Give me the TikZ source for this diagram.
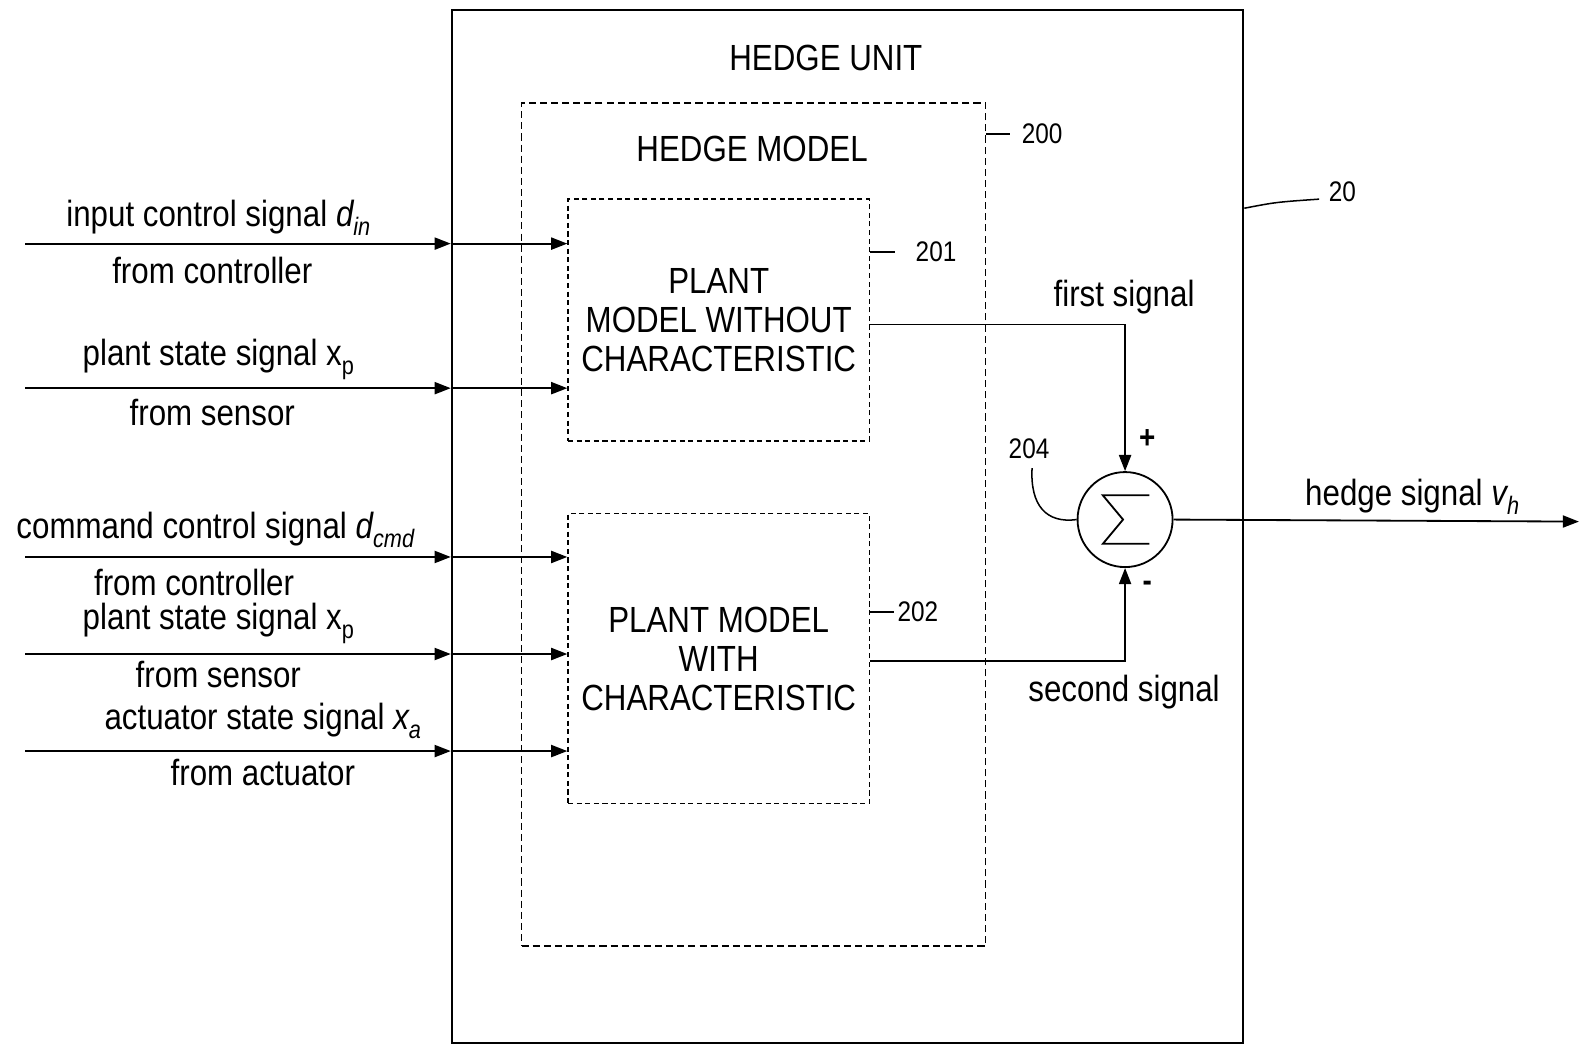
\documentclass[tikz,border=0pt]{standalone}
\usepackage{fontspec}
\setmainfont{Liberation Sans}[FakeStretch=0.86]
\usetikzlibrary{arrows.meta,calc}
\newcommand\sbs[1]{\raisebox{-0.45ex}{\fontsize{25}{25}\selectfont #1}}
\begin{document}
\begin{tikzpicture}[x=1pt,y=-1pt,
  lbl/.style={font=\fontsize{36}{38.5}\selectfont, inner sep=0pt, anchor=base},
  num/.style={font=\fontsize{28}{30}\selectfont, inner sep=0pt, anchor=base},
  ln/.style={line width=1.8pt},
  lead/.style={line width=1.5pt},
  arr/.style={line width=1.8pt,-{Triangle[length=16pt,width=12pt]}},
  unitbox/.style={draw, line width=2.2pt, inner sep=0pt},
  modelbox/.style={draw, line width=1.7pt, dash pattern=on 7pt off 4pt, inner sep=0pt},
  plantbox/.style={draw, line width=1.6pt, dash pattern=on 5pt off 3.5pt, inner sep=0pt, align=center,
     font=\fontsize{36}{38.5}\selectfont},
  sumnode/.style={circle, draw, line width=1.8pt, minimum size=94pt, inner sep=0pt},
  sgn/.style={font=\fontsize{32}{32}\selectfont\bfseries, inner sep=0pt}
]
\useasboundingbox (0,0) rectangle (1568,1035);

% boxes
\node[unitbox, minimum width=783pt, minimum height=1022pt] (unit) at (838.5,521) {};
\node[modelbox, minimum width=459pt, minimum height=834pt] (model) at (745.5,519) {};
\node[plantbox, minimum width=298pt, minimum height=239pt] (p201) at (711,316.5)
  {PLANT\\MODEL WITHOUT\\CHARACTERISTIC};
\node[plantbox, minimum width=298pt, minimum height=287pt] (p202) at (711,651.5)
  {PLANT MODEL\\WITH\\CHARACTERISTIC};
\node[sumnode] (sum) at (1113,514) {};
\draw[ln, shift={(sum.center)}] (24,-24) -- (-22,-24) -- (-2,0) -- (-22,24) -- (24,24);

% titles
\node[lbl] (tunit) at (817,70) {HEDGE UNIT};
\node[lbl] (tmodel) at (744,160) {HEDGE MODEL};

% reference numbers
\node[num] (n200) at (1031,142) {200};
\node[num] (n201) at (926,259) {201};
\node[num] (n202) at (908,615) {202};
\node[num] (n20) at (1328,199) {20};
\node[num] (n204) at (1018,454) {204};
\draw[lead] (n200.west -| model.east) -- ($(n200.west)+(-12,0)$);
\draw[lead] (n201.west -| p201.east) -- ($(n201.west)+(-20,0)$);
\draw[lead] (n202.west -| p202.east) -- ($(n202.west)+(-3,0)$);
\coordinate (l20a) at (1231,206);
\coordinate (l20b) at (1305,197);
\draw[lead] (l20a) .. controls (1262,200) .. (l20b);
\coordinate (l204) at (1021,463);
\draw[lead] (l204) .. controls (1019,500) and (1035,518) .. (sum.west);

% input signals
\foreach \y/\target [count=\i] in {241/p201, 384/p201, 551/p202, 647/p202, 743/p202} {
  \coordinate (s\i) at (25,\y);
  \draw[arr] (s\i) -- (s\i -| unit.west);
  \draw[arr] (s\i -| unit.west) -- (s\i -| \target.west);
}

\node[lbl] at (216,224) {input control signal {\itshape d}\sbs{\itshape in}};
\node[lbl] at (210,280) {from controller};
\node[lbl] at (216,362) {plant state signal x\sbs{p}};
\node[lbl] at (210,421) {from sensor};
\node[lbl] at (213,533) {command control signal {\itshape d}\sbs{\itshape cmd}};
\node[lbl] at (192,589) {from controller};
\node[lbl] at (216,623) {plant state signal x\sbs{p}};
\node[lbl] at (216,680) {from sensor};
\node[lbl] at (260,722) {actuator state signal {\itshape x}\sbs{\itshape a}};
\node[lbl] at (260,777) {from actuator};

% first / second signal
\coordinate (o1) at ($(p201.east)+(0,4.5)$);
\coordinate (o2) at ($(p202.east)+(0,2.5)$);
\draw[arr] (o1) -| (sum.north);
\draw[arr] (o2) -| (sum.south);
\node[lbl] at (1112,303) {first signal};
\node[lbl] at (1112,694) {second signal};
\node[sgn] at (1135,434) {+};
\node[sgn] at (1135,580) {-};

% output
\coordinate (out) at (1562,516);
\draw[arr] (sum.east) -- (out);
\node[lbl] at (1397,500) {hedge signal {\itshape v}\sbs{\itshape h}};
\end{tikzpicture}
\end{document}
